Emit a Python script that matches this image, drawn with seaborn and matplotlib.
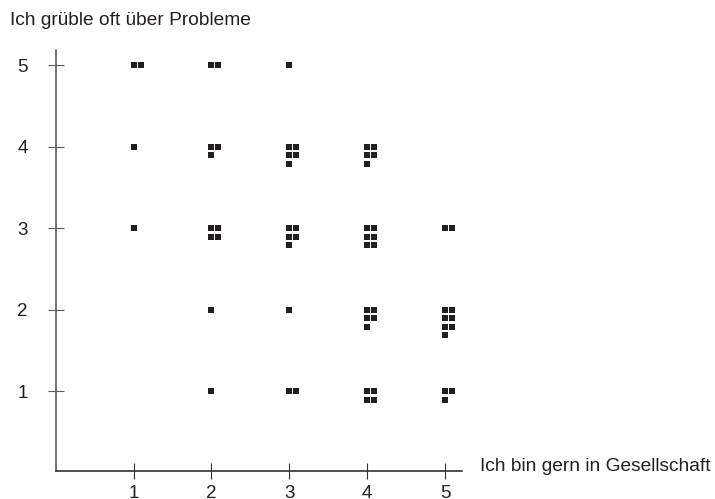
import matplotlib.pyplot as plt
import pandas as pd
import seaborn as sns

# answers: x = "Ich bin gern in Gesellschaft", y = "Ich grüble oft über Probleme"
gesellschaft = [1, 2, 3, 1, 2, 3, 4, 1, 2, 3, 4, 5, 2, 3, 4, 5, 2, 3, 4, 5]
grueble      = [5, 5, 5, 4, 4, 4, 4, 3, 3, 3, 3, 3, 2, 2, 2, 2, 1, 1, 1, 1]
anzahl       = [2, 2, 1, 1, 3, 5, 5, 1, 4, 5, 6, 2, 1, 1, 5, 7, 1, 2, 4, 3]

title_text = "Ich grüble oft über Probleme"
xlabel_text = "Ich bin gern in Gesellschaft"

# one row per person, stacked two per row below the answer position
rows = []
for gx, gy, n in zip(gesellschaft, grueble, anzahl):
    for i in range(n):
        rows.append({"gesellschaft": gx, "grueble": gy, "slot": i})
df = pd.DataFrame(rows)
df["x_plot"] = df["gesellschaft"] + 0.09 * (df["slot"] % 2)
df["y_plot"] = df["grueble"] - 0.105 * (df["slot"] // 2)

sns.set_style("white")
plt.rcParams["font.family"] = ["Liberation Sans", "DejaVu Sans"]

fig = plt.figure(figsize=(7.15, 4.99), dpi=100)
ax = fig.add_axes([55.7 / 715, 28 / 499, 406 / 715, 421 / 499])

sns.scatterplot(data=df, x="x_plot", y="y_plot", marker="s", s=15,
                color="#231f20", linewidth=0, ax=ax)

ax.set_xlim(0, 5.214)
ax.set_ylim(0.0176, 5.188)
ax.set_xticks([1, 2, 3, 4, 5])
ax.set_yticks([1, 2, 3, 4, 5])
ax.set_xlabel("")
ax.set_ylabel("")

sns.despine(ax=ax)
ax.spines["left"].set_color("#5a5a5a")
ax.spines["bottom"].set_color("#333333")
ax.spines["left"].set_linewidth(1.2)
ax.spines["bottom"].set_linewidth(1.2)

# ticks cross the axis lines
ax.tick_params(axis="x", bottom=True, direction="inout", length=11.5, width=0.8,
               colors="#333333", labelsize=13.5, pad=4, labelcolor="#231f20")
ax.tick_params(axis="y", left=True, direction="inout", length=11.5, width=0.8,
               colors="#5a5a5a", labelsize=13.5, pad=14.5, labelcolor="#231f20")

fig.text(10 / 715, 1 - 25 / 499, title_text, fontsize=13.8,
         color="#231f20", va="baseline", ha="left")
fig.text(480 / 715, 1 - 471 / 499, xlabel_text, fontsize=13.8,
         color="#231f20", va="baseline", ha="left")

fig.savefig("out.png", dpi=100)
